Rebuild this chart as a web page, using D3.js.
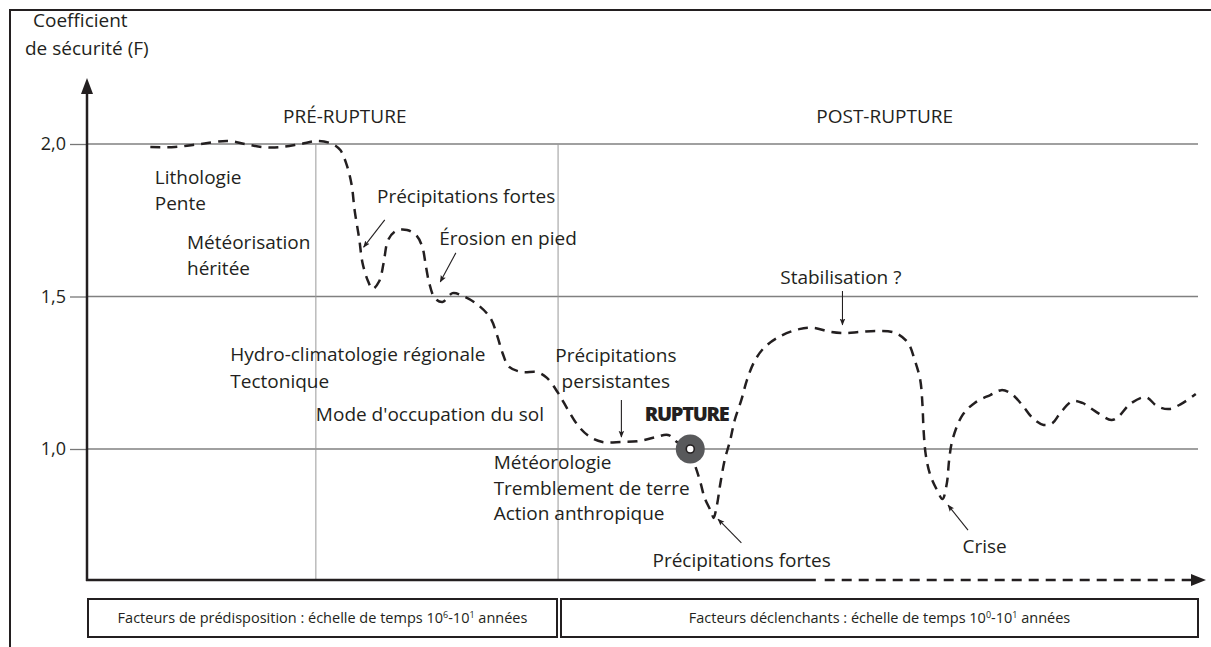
<!DOCTYPE html>
<html><head><meta charset="utf-8">
<script src="https://cdn.jsdelivr.net/npm/d3@7"></script>
<style>
html,body{margin:0;padding:0;background:#fff;}
svg text{font-family:"Open Sans","Noto Sans",sans-serif;fill:#231f20;}
</style></head>
<body>
<svg id="chart" width="1211" height="647"></svg>
<script>
// ---- data ----
const timeT = [5.7,7.9,10.2,12.7,14.2,15.8,17.4,19.2,20.8,22.1,22.8,23.3,23.8,24.1,24.5,24.8,25.3,25.7,26.3,26.7,27.1,27.8,28.8,29.7,30.2,30.5,30.8,31.3,32.0,32.9,33.8,35.1,36.3,36.9,37.4,38.0,39.2,40.5,41.4,42.4,43.3,44.3,45.3,46.4,48.1,49.7,51.2,52.3,53.1,54.1,54.7,55.2,55.6,56.2,56.4,56.7,57.0,57.4,57.9,58.3,58.9,59.4,60.1,61.0,62.4,64.1,65.4,66.9,68.2,69.6,71.1,72.8,73.9,74.5,75.0,75.2,75.3,75.5,75.9,76.5,77.0,77.4,77.6,77.9,78.8,79.9,81.3,82.3,83.1,84.1,85.1,86.1,86.9,87.6,88.7,89.6,90.7,92.2,92.8,93.9,95.3,96.3,97.4,98.5,99.8];
const safetyF = [1.99,1.99,2.00,2.01,2.00,1.99,1.99,2.00,2.01,2.00,1.98,1.94,1.87,1.78,1.69,1.61,1.55,1.525,1.55,1.61,1.685,1.715,1.718,1.698,1.66,1.60,1.545,1.495,1.482,1.511,1.502,1.475,1.43,1.374,1.315,1.269,1.252,1.252,1.233,1.184,1.128,1.072,1.039,1.023,1.023,1.026,1.039,1.046,1.023,0.993,0.948,0.892,0.839,0.793,0.774,0.816,0.885,0.964,1.03,1.095,1.161,1.226,1.289,1.334,1.37,1.393,1.397,1.384,1.38,1.384,1.387,1.38,1.348,1.292,1.226,1.144,1.062,0.98,0.915,0.866,0.836,0.889,0.964,1.03,1.111,1.151,1.177,1.193,1.184,1.148,1.102,1.079,1.085,1.118,1.157,1.151,1.125,1.095,1.105,1.148,1.17,1.141,1.131,1.148,1.18];
const yTicks = [1.0, 1.5, 2.0];
const yTickLabels = ["1,0", "1,5", "2,0"];
const phaseBounds = [20.6, 42.4];
const phaseNames = ["PRÉ-RUPTURE", "POST-RUPTURE"];
const phaseNameT = [23.2, 71.8];
const ruptureT = 54.3, ruptureF = 1.0;
const ruptureLabel = "RUPTURE";
const labelTexts = ["Lithologie","Pente","Météorisation","héritée","Précipitations fortes","Érosion en pied","Hydro-climatologie régionale","Tectonique","Précipitations","persistantes","Mode d'occupation du sol","Météorologie","Tremblement de terre","Action anthropique","Précipitations fortes","Crise","Stabilisation ?"];
const labelT = [6.1,6.1,9.0,9.0,26.1,31.7,12.9,12.9,47.6,47.6,20.6,36.6,36.6,36.6,50.9,78.8,62.4];
const labelF = [1.892,1.807,1.679,1.594,1.83,1.692,1.311,1.223,1.308,1.223,1.115,0.957,0.872,0.79,0.636,0.682,1.564];
const labelAnchor = ["start","start","start","start","start","start","start","start","middle","middle","start","start","start","start","start","start","start"];
const arrowFrom = [[26.8,1.751],[33.2,1.643],[48.1,1.161],[68.0,1.518],[58.9,0.692],[79.3,0.734]];
const arrowTo   = [[24.9,1.662],[31.8,1.548],[48.1,1.039],[68.0,1.407],[56.8,0.770],[77.5,0.816]];
const boxTexts = [
  ["Facteurs de prédisposition : échelle de temps 10","6","-10","1"," années"],
  ["Facteurs déclenchants : échelle de temps 10","0","-10","1"," années"]
];

// ---- layout ----
const svg = d3.select("#chart");
const x0 = 87, x1 = 1198, yAxisBottom = 580;
const x = d3.scaleLinear().domain([0, 100]).range([x0, x1]);
const y = d3.scaleLinear().domain([1, 2]).range([449, 144]);
const ink = "#231f20";
const fs = 19;

// outer frame
svg.append("path").attr("d", "M10,647 V10 H1211").attr("fill","none").attr("stroke",ink).attr("stroke-width",2);

// horizontal grid lines + ticks
const yAxis = d3.axisLeft(y).tickValues(yTicks).tickFormat((d,i)=>yTickLabels[i]).tickSize(17).tickPadding(4);
const gy = svg.append("g").attr("transform", `translate(${x0},0)`).call(yAxis);
gy.select(".domain").remove();
gy.selectAll(".tick line").attr("stroke","#777").attr("stroke-width",1.3);
gy.selectAll(".tick text").attr("font-size",18).attr("fill",ink).style("font-family","'Open Sans',sans-serif");
svg.append("g").selectAll("line").data(yTicks).join("line")
  .attr("x1", x0).attr("x2", x1).attr("y1", d=>y(d)).attr("y2", d=>y(d))
  .attr("stroke","#808080").attr("stroke-width",1.3);

// vertical phase lines
svg.append("g").selectAll("line").data(phaseBounds).join("line")
  .attr("x1", d=>x(d)).attr("x2", d=>x(d)).attr("y1", y(2)).attr("y2", yAxisBottom)
  .attr("stroke","#999").attr("stroke-width",1);

// phase names
svg.append("g").selectAll("text").data(phaseNames).join("text")
  .attr("x",(d,i)=>x(phaseNameT[i])).attr("y",116).attr("dominant-baseline","central").attr("text-anchor","middle")
  .attr("font-size",fs).text(d=>d);

// y axis with arrow
svg.append("line").attr("x1",x0).attr("x2",x0).attr("y1",yAxisBottom+1).attr("y2",92).attr("stroke",ink).attr("stroke-width",2.5);
svg.append("path").attr("d",`M${x0},78 L${x0-6},94 L${x0+6},94 Z`).attr("fill",ink);
svg.append("text").attr("x",33).attr("y",20).attr("dominant-baseline","central").attr("font-size",fs).text("Coefficient");
svg.append("text").attr("x",25).attr("y",48).attr("dominant-baseline","central").attr("font-size",fs).text("de sécurité (F)");

// x axis: solid then dashed
svg.append("line").attr("x1",x0-1).attr("x2",x(65.6)).attr("y1",yAxisBottom).attr("y2",yAxisBottom).attr("stroke",ink).attr("stroke-width",2.5);
svg.append("line").attr("x1",x(66.4)).attr("x2",1193).attr("y1",yAxisBottom).attr("y2",yAxisBottom).attr("stroke",ink).attr("stroke-width",2.5).attr("stroke-dasharray","10,7");
svg.append("path").attr("d",`M1206,${yAxisBottom} L1191,${yAxisBottom-6} L1191,${yAxisBottom+6} Z`).attr("fill",ink);

// curve
const pts = timeT.map((t,i)=>[t, safetyF[i]]);
const line = d3.line().x(d=>x(d[0])).y(d=>y(d[1])).curve(d3.curveCatmullRom.alpha(0.5));
svg.append("path").datum(pts).attr("d",line).attr("fill","none").attr("stroke",ink)
  .attr("stroke-width",2.5).attr("stroke-dasharray","10,7");

// rupture marker
svg.append("circle").attr("cx",x(ruptureT)).attr("cy",y(ruptureF)).attr("r",14.5).attr("fill","#58595b");
svg.append("circle").attr("cx",x(ruptureT)).attr("cy",y(ruptureF)).attr("r",4).attr("fill","#fff").attr("stroke",ink).attr("stroke-width",1.6);
svg.append("text").attr("x",x(50.2)).attr("y",y(1.115)).attr("dominant-baseline","central")
  .attr("font-size",20).attr("font-weight",800).attr("letter-spacing","-1.3").style("font-family","'Open Sans',sans-serif").text(ruptureLabel);

// labels
svg.append("g").selectAll("text").data(labelTexts).join("text")
  .attr("x",(d,i)=>x(labelT[i])).attr("y",(d,i)=>y(labelF[i]))
  .attr("dominant-baseline","central").attr("text-anchor",(d,i)=>labelAnchor[i])
  .attr("font-size",fs).text(d=>d);

// annotation arrows
const defs = svg.append("defs");
defs.append("marker").attr("id","ah").attr("viewBox","0 0 10 10").attr("refX",9).attr("refY",5)
  .attr("markerWidth",7).attr("markerHeight",7).attr("markerUnits","userSpaceOnUse").attr("orient","auto")
  .append("path").attr("d","M0,1 L10,5 L0,9 L2,5 Z").attr("fill",ink);
svg.append("g").selectAll("line").data(arrowFrom).join("line")
  .attr("x1",d=>x(d[0])).attr("y1",d=>y(d[1]))
  .attr("x2",(d,i)=>x(arrowTo[i][0])).attr("y2",(d,i)=>y(arrowTo[i][1]))
  .attr("stroke",ink).attr("stroke-width",1.1).attr("marker-end","url(#ah)");

// bottom boxes
const boxBounds = [[88,557],[561,1198]];
const gb = svg.append("g");
boxBounds.forEach((b,i)=>{
  gb.append("rect").attr("x",b[0]).attr("y",599).attr("width",b[1]-b[0]).attr("height",38)
    .attr("fill","none").attr("stroke",ink).attr("stroke-width",2);
  const t = gb.append("text").attr("x",(b[0]+b[1])/2).attr("y",623).attr("text-anchor","middle").attr("font-size",14.5);
  const parts = boxTexts[i];
  t.append("tspan").text(parts[0]);
  t.append("tspan").attr("dy",-5).attr("font-size",9).text(parts[1]);
  t.append("tspan").attr("dy",5).text(parts[2]);
  t.append("tspan").attr("dy",-5).attr("font-size",9).text(parts[3]);
  t.append("tspan").attr("dy",5).text(parts[4]);
});
</script>
</body></html>
